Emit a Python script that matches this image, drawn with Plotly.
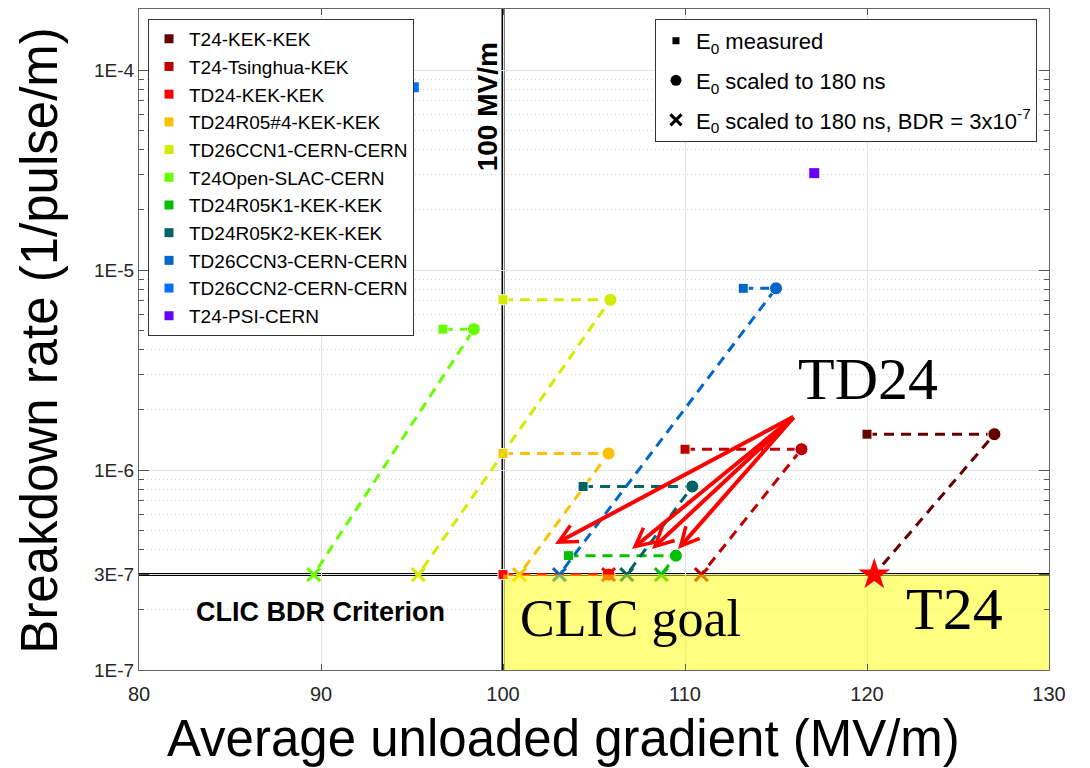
import plotly.graph_objects as go

# ---------------- data ----------------
series_names = ["T24-KEK-KEK", "T24-Tsinghua-KEK", "TD24-KEK-KEK", "TD24R05#4-KEK-KEK",
                "TD26CCN1-CERN-CERN", "T24Open-SLAC-CERN", "TD24R05K1-KEK-KEK",
                "TD24R05K2-KEK-KEK", "TD26CCN3-CERN-CERN", "TD26CCN2-CERN-CERN", "T24-PSI-CERN"]
series_colors = ["#640000", "#c00000", "#ff0000", "#ffc000", "#d4ea00", "#66ff00",
                 "#00c000", "#006464", "#0066cc", "#0070ff", "#6600ff"]
# E0 measured
measured_gradient = [120.0, 110.0, 100.0, 100.0, 100.0, 96.7, 103.6, 104.4, 113.2, 95.1, 117.1]
measured_bdr = [1.51e-6, 1.27e-6, 3.0e-7, 1.21e-6, 7.1e-6, 5.06e-6, 3.73e-7, 8.27e-7, 8.1e-6, 8.2e-5, 3.05e-5]
# E0 scaled to 180 ns (same BDR)
scaled_gradient = [127.0, 116.4, 105.8, 105.8, 105.9, 98.4, 109.5, 110.4, 115.0, None, None]
# E0 scaled to 180 ns, BDR = 3e-7
target_gradient = [120.4, 110.9, 105.8, 100.9, 95.35, 89.6, 108.7, 106.8, 103.1, None, None]
target_bdr = 3e-7
bdr_criterion = 3e-7
gradient_criterion = 100
x_max = 130
y_min = 1e-7

y_tick_vals = [1e-7, 3e-7, 1e-6, 1e-5, 1e-4]
y_tick_text = ["1E-7", "3E-7", "1E-6", "1E-5", "1E-4"]
x_tick_vals = [80, 90, 100, 110, 120, 130]
minor_y_vals = [m * 10.0 ** e for e in (-7, -6, -5, -4) for m in range(2, 10)
                if not (e == -7 and m == 3) and m * 10.0 ** e < 2.1e-4]

# arrows from "TD24" label to TD24 structures (gradient, log10 BDR)
arrow_tail = (116.04, -5.73)
arrow_heads_x = [102.86, 107.09, 108.19, 109.62]
arrow_heads_logy = [-6.37, -6.395, -6.395, -6.395]

fig = go.Figure()

star_points = []
# series lines + markers
for i, name in enumerate(series_names):
    c = series_colors[i]
    xs = [measured_gradient[i]]
    ys = [measured_bdr[i]]
    if scaled_gradient[i] is not None:
        xs += [scaled_gradient[i], target_gradient[i]]
        ys += [measured_bdr[i], target_bdr]
        fig.add_trace(go.Scatter(x=xs, y=ys, mode="lines",
                                 line=dict(color=c, width=3, dash="10px,7px"),
                                 showlegend=False, hoverinfo="skip"))
        fig.add_trace(go.Scatter(x=xs[:2], y=ys[:2], mode="markers",
                                 marker=dict(symbol=["square", "circle"], size=[10, 13], color=c, opacity=1),
                                 showlegend=False, name=name))
        if i == 0:
            star_points.append((xs[2], ys[2]))
        else:
            fig.add_trace(go.Scatter(x=xs[2:], y=ys[2:], mode="markers",
                                     marker=dict(symbol="x-thin", size=13, color=c, opacity=1,
                                                 line=dict(color=c, width=3)),
                                     showlegend=False, name=name))
    else:
        fig.add_trace(go.Scatter(x=xs, y=ys, mode="markers",
                                 marker=dict(symbol="square", size=10, color=c, opacity=1),
                                 showlegend=False, name=name))

# CLIC goal area (translucent yellow, drawn over the markers beneath it)
fig.add_trace(go.Scatter(x=[gradient_criterion, x_max, x_max, gradient_criterion, gradient_criterion],
                         y=[y_min, y_min, bdr_criterion, bdr_criterion, y_min],
                         mode="lines", fill="toself", fillcolor="rgba(255,255,0,0.5)",
                         line=dict(width=0), showlegend=False, hoverinfo="skip"))

# T24 star on top
for sx, sy in star_points:
    fig.add_trace(go.Scatter(x=[sx], y=[sy], mode="markers",
                             marker=dict(symbol="star", size=24, color="#ff0000", opacity=1),
                             showlegend=False, name=series_names[0]))

# legend 1: series
for name, c in zip(series_names, series_colors):
    fig.add_trace(go.Scatter(x=[None], y=[None], mode="markers", name=name,
                             legendgroup=name, legend="legend",
                             marker=dict(symbol="square", size=9, color=c)))

# legend 2: marker meaning
legend2_items = [("E<sub>0</sub> measured", "square", 7, 0),
                 ("E<sub>0</sub> scaled to 180 ns", "circle", 11, 0),
                 ("E<sub>0</sub> scaled to 180 ns, BDR = 3x10<sup>-7</sup>", "x-thin", 11, 3)]
for label, sym, sz, lw in legend2_items:
    fig.add_trace(go.Scatter(x=[None], y=[None], mode="markers", name=label,
                             legendgroup=label, legend="legend2",
                             marker=dict(symbol=sym, size=sz, color="black",
                                         line=dict(color="black", width=lw))))

# reference lines
fig.add_shape(type="line", xref="paper", x0=0, x1=1, yref="y", y0=bdr_criterion, y1=bdr_criterion,
              line=dict(color="black", width=3), layer="between")
fig.add_shape(type="line", xref="x", x0=gradient_criterion, x1=gradient_criterion, yref="paper", y0=0, y1=1,
              line=dict(color="black", width=3), layer="between")

C = dict(xanchor="center", yanchor="middle", showarrow=False)
ann = []
ann.append(dict(text="<b>100 MV/m</b>", xref="paper", yref="paper", x=0.383, y=0.852,
                textangle=-90, font=dict(family="Liberation Sans", size=28, color="black"), **C))
ann.append(dict(text="<b>CLIC BDR Criterion</b>", xref="x", yref="y", x=89.95, y=-6.71,
                font=dict(family="Liberation Sans", size=27, color="black"), **C))
ann.append(dict(text="CLIC goal", xref="x", yref="y", x=107.03, y=-6.74,
                font=dict(family="Liberation Serif", size=52, color="black"), **C))
ann.append(dict(text="T24", xref="x", yref="y", x=124.78, y=-6.695,
                font=dict(family="Liberation Serif", size=60, color="black"), **C))
ann.append(dict(text="TD24", xref="x", yref="y", x=120.05, y=-5.545,
                font=dict(family="Liberation Serif", size=60, color="black"), **C))
for hx, hy in zip(arrow_heads_x, arrow_heads_logy):
    ann.append(dict(text="", xref="x", yref="y", x=hx, y=hy, axref="x", ayref="y",
                    ax=arrow_tail[0], ay=arrow_tail[1], showarrow=True, arrowhead=5,
                    arrowsize=0.9, arrowwidth=4, arrowcolor="#ff0000", standoff=0))
ann.append(dict(text="Average unloaded gradient (MV/m)", xref="paper", yref="paper", x=0.466, y=-0.103,
                font=dict(family="Liberation Sans", size=51, color="black"), **C))
ann.append(dict(text="Breakdown rate (1/pulse/m)", xref="paper", yref="paper", x=-0.109, y=0.498,
                textangle=-90, font=dict(family="Liberation Sans", size=51, color="black"), **C))

fig.update_layout(
    width=1090, height=768,
    margin=dict(l=131, r=49, t=1, b=106),
    paper_bgcolor="white", plot_bgcolor="white",
    annotations=ann,
    font=dict(family="Liberation Sans", color="#262626"),
    legend=dict(x=0.0099, y=0.985, xanchor="left", yanchor="top",
                bgcolor="white", bordercolor="#333333", borderwidth=1,
                font=dict(family="Liberation Sans", size=19, color="black"),
                tracegroupgap=0, itemclick=False),
    legend2=dict(x=0.567, y=0.985, xanchor="left", yanchor="top",
                 bgcolor="white", bordercolor="#333333", borderwidth=1,
                 font=dict(family="Liberation Sans", size=22, color="black"),
                 tracegroupgap=8, itemclick=False),
    xaxis=dict(range=[80, 130], tickvals=x_tick_vals, showgrid=True, gridcolor="#e3e3e3",
               ticks="inside", ticklen=6, tickcolor="#555", mirror="ticks", showline=True,
               linecolor="#666", linewidth=1, zeroline=False, ticklabelstandoff=6,
               tickfont=dict(family="Liberation Sans", size=20, color="#262626")),
    yaxis=dict(type="log", range=[-7, -3.695], tickvals=y_tick_vals, ticktext=y_tick_text,
               showgrid=True, gridcolor="#e3e3e3", ticks="inside", ticklen=10, tickcolor="#555",
               mirror="ticks", showline=True, linecolor="#666", linewidth=1, zeroline=False,
               tickfont=dict(family="Liberation Sans", size=19, color="#262626"),
               minor=dict(tickmode="array", tickvals=minor_y_vals, ticks="inside", ticklen=5,
                          tickcolor="#555", showgrid=True, gridcolor="#d4d4d4",
                          griddash="1px,3px", gridwidth=1)),
)

fig.write_html("out.html")
